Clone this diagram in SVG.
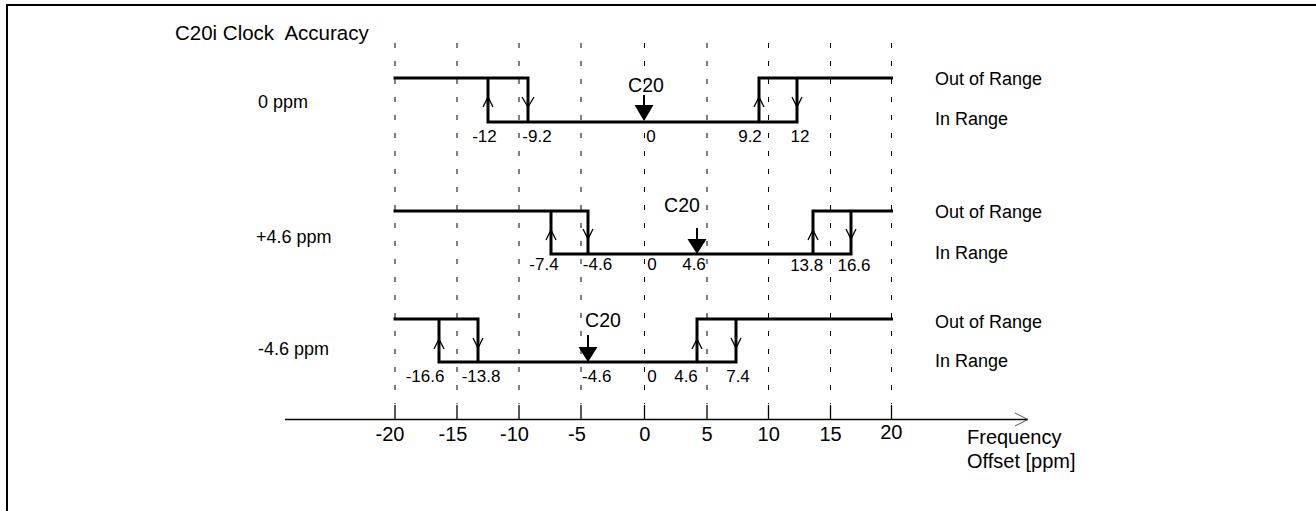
<svg xmlns="http://www.w3.org/2000/svg" width="1316" height="511" viewBox="0 0 1316 511">
<style>
text{font-family:"Liberation Sans",Arial,sans-serif;fill:#000}
.grid{stroke:#000;stroke-width:1;stroke-dasharray:5 13;fill:none}
.tick{stroke:#000;stroke-width:1.3;fill:none}
.step{stroke:#000;stroke-width:3;fill:none;stroke-linejoin:miter;stroke-linecap:square}
.arr{stroke:#000;stroke-width:1.3;fill:none}
.tri{fill:#000}
.stem{stroke:#000;stroke-width:2}
.lbl{font-size:17px;text-anchor:middle}
.c20{font-size:19.5px;text-anchor:middle}
.side{font-size:18px}
.ax{font-size:20px;text-anchor:middle}
</style>
<g id="frame">
<line x1="7" y1="5" x2="1316" y2="5" stroke="#000" stroke-width="2"/>
<line x1="7" y1="4" x2="7" y2="511" stroke="#000" stroke-width="2"/>
</g>
<text id="title" x="175" y="40" style="font-size:20.5px">C20i Clock&#160; Accuracy</text>
<g id="gridlines">
<line class="grid" x1="395" y1="43" x2="395" y2="404"/>
<line class="grid" x1="457" y1="43" x2="457" y2="404"/>
<line class="grid" x1="519" y1="43" x2="519" y2="404"/>
<line class="grid" x1="581" y1="43" x2="581" y2="404"/>
<line class="grid" x1="644.5" y1="43" x2="644.5" y2="404"/>
<line class="grid" x1="707" y1="43" x2="707" y2="404"/>
<line class="grid" x1="768.5" y1="43" x2="768.5" y2="404"/>
<line class="grid" x1="830.5" y1="43" x2="830.5" y2="404"/>
<line class="grid" x1="891.5" y1="43" x2="891.5" y2="404"/>
</g>
<g id="axis">
<line class="tick" x1="285" y1="419.5" x2="1028" y2="419.5"/>
<polyline points="1015,413 1028,419.5 1015,426" fill="none" stroke="#555" stroke-width="1"/>
<line class="tick" x1="395" y1="405" x2="395" y2="419"/>
<line class="tick" x1="457" y1="405" x2="457" y2="419"/>
<line class="tick" x1="519" y1="405" x2="519" y2="419"/>
<line class="tick" x1="581" y1="405" x2="581" y2="419"/>
<line class="tick" x1="644.5" y1="405" x2="644.5" y2="419"/>
<line class="tick" x1="707" y1="405" x2="707" y2="419"/>
<line class="tick" x1="768.5" y1="405" x2="768.5" y2="419"/>
<line class="tick" x1="830.5" y1="405" x2="830.5" y2="419"/>
<line class="tick" x1="891.5" y1="405" x2="891.5" y2="419"/>
<text class="ax" x="390" y="441">-20</text>
<text class="ax" x="453" y="441">-15</text>
<text class="ax" x="514.5" y="441">-10</text>
<text class="ax" x="577" y="441">-5</text>
<text class="ax" x="644.7" y="441">0</text>
<text class="ax" x="707" y="441">5</text>
<text class="ax" x="768.7" y="441">10</text>
<text class="ax" x="830.5" y="441">15</text>
<text class="ax" x="891.3" y="439">20</text>
<text x="967" y="444" style="font-size:20px">Frequency</text>
<text x="967" y="468" style="font-size:20px">Offset [ppm]</text>
</g>
<g id="row-0ppm">
<text class="side" x="258" y="108">0 ppm</text>
<path class="step" d="M395,78 H528 V122 M488,78 V122 H797 V78 M759,122 V78 H891.5"/>
<polyline class="arr" points="483,107 488,97 493,107"/>
<polyline class="arr" points="522,97 528,107 534,97"/>
<polyline class="arr" points="754,107 759,97 764,107"/>
<polyline class="arr" points="792,97 797,107 802,97"/>
<line class="stem" x1="644" y1="95" x2="644" y2="105"/>
<polygon class="tri" points="634.5,105 653.5,105 644,121"/>
<text class="c20" x="646" y="92">C20</text>
<text class="lbl" x="484.5" y="142">-12</text>
<text class="lbl" x="537" y="142">-9.2</text>
<text class="lbl" x="651" y="142">0</text>
<text class="lbl" x="750" y="142">9.2</text>
<text class="lbl" x="800" y="142">12</text>
<text class="side" x="935" y="85">Out of Range</text>
<text class="side" x="935" y="125">In Range</text>
</g>
<g id="row-plus4.6ppm">
<text class="side" x="256" y="243">+4.6 ppm</text>
<path class="step" d="M395,211 H588 V254 M551,211 V254 H851 V211 M813,254 V211 H891.5"/>
<polyline class="arr" points="546,240 551,230 556,240"/>
<polyline class="arr" points="583,229 588,239 593,229"/>
<polyline class="arr" points="808,240 813,230 818,240"/>
<polyline class="arr" points="846,229 851,239 856,229"/>
<line class="stem" x1="697" y1="228" x2="697" y2="239"/>
<polygon class="tri" points="687.5,239 706.5,239 697,254"/>
<text class="c20" x="682" y="212">C20</text>
<text class="lbl" x="544" y="270">-7.4</text>
<text class="lbl" x="597.5" y="270">-4.6</text>
<text class="lbl" x="652" y="270">0</text>
<text class="lbl" x="694" y="270">4.6</text>
<text class="lbl" x="806.7" y="271">13.8</text>
<text class="lbl" x="854" y="271">16.6</text>
<text class="side" x="935" y="218">Out of Range</text>
<text class="side" x="935" y="259">In Range</text>
</g>
<g id="row-minus4.6ppm">
<text class="side" x="258" y="355">-4.6 ppm</text>
<path class="step" d="M395,319 H478 V362 M439,319 V362 H736 V319 M697,362 V319 H891.5"/>
<polyline class="arr" points="434,349 439,339 444,349"/>
<polyline class="arr" points="473,338 478,348 483,338"/>
<polyline class="arr" points="692,349 697,339 702,349"/>
<polyline class="arr" points="731,338 736,348 741,338"/>
<line class="stem" x1="588" y1="335" x2="588" y2="347"/>
<polygon class="tri" points="578.5,347 597.5,347 588,362"/>
<text class="c20" x="603" y="327">C20</text>
<text class="lbl" x="425" y="382">-16.6</text>
<text class="lbl" x="481" y="382">-13.8</text>
<text class="lbl" x="596.7" y="382">-4.6</text>
<text class="lbl" x="652" y="382">0</text>
<text class="lbl" x="686" y="382">4.6</text>
<text class="lbl" x="738" y="382">7.4</text>
<text class="side" x="935" y="328">Out of Range</text>
<text class="side" x="935" y="367">In Range</text>
</g>
</svg>
